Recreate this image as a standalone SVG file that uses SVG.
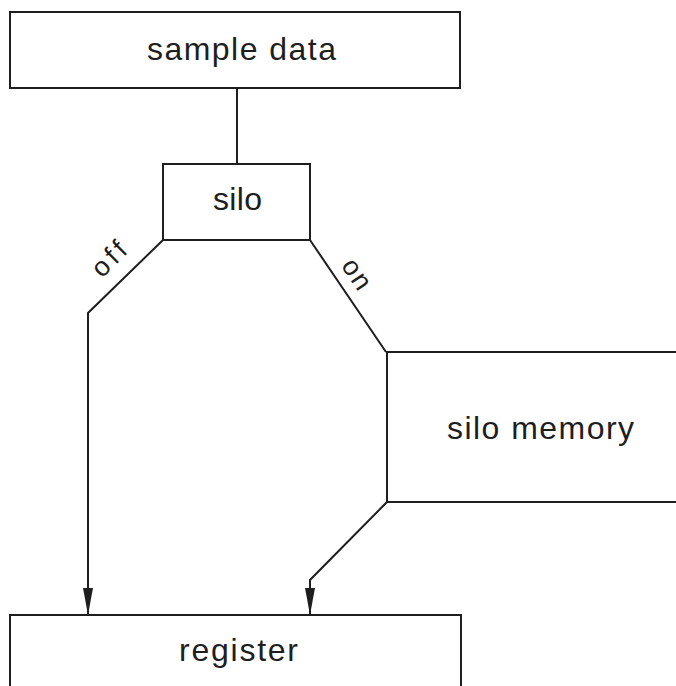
<svg xmlns="http://www.w3.org/2000/svg" width="676" height="686" viewBox="0 0 676 686">
<style>
.box{fill:none;stroke:#1e1e1e;stroke-width:2}
.ln{fill:none;stroke:#1e1e1e;stroke-width:2}
.t{font-family:"Liberation Sans",Arial,sans-serif;font-size:32px;fill:#1e1e1e}
.lb{font-family:"Liberation Sans",Arial,sans-serif;font-size:27px;fill:#1e1e1e}
</style>
<rect width="676" height="686" fill="#fff"/>
<g id="connectors">
<line class="ln" x1="237" y1="88" x2="237" y2="164"/>
<polyline class="ln" points="163,240 88,313 88,614"/>
<polyline class="ln" points="310,240 386,352"/>
<polyline class="ln" points="387,502 310,580 310,614"/>
<path d="M83,588 L93,588 L88,615 Z" fill="#1e1e1e"/>
<path d="M305,588 L315,588 L310,615 Z" fill="#1e1e1e"/>
<text class="lb" transform="translate(109,259) rotate(-45)" text-anchor="middle" dy="9" textLength="38" lengthAdjust="spacing">off</text>
<text class="lb" transform="translate(357,274) rotate(56)" text-anchor="middle" dy="9" textLength="32" lengthAdjust="spacing">on</text>
</g>
<g id="sample-data">
<rect class="box" x="10" y="12" width="450" height="76"/>
<text class="t" x="147" y="60" textLength="189" lengthAdjust="spacing">sample data</text>
</g>
<g id="silo">
<rect class="box" x="163" y="164" width="147" height="76"/>
<text class="t" x="213" y="210" textLength="49" lengthAdjust="spacing">silo</text>
</g>
<g id="silo-memory">
<path class="box" d="M680,352 L387,352 L387,502 L680,502"/>
<text class="t" x="447" y="439" textLength="187" lengthAdjust="spacing">silo memory</text>
</g>
<g id="register">
<path class="box" d="M10,700 L10,615 L461,615 L461,700"/>
<text class="t" x="179" y="661" textLength="119" lengthAdjust="spacing">register</text>
</g>
</svg>
